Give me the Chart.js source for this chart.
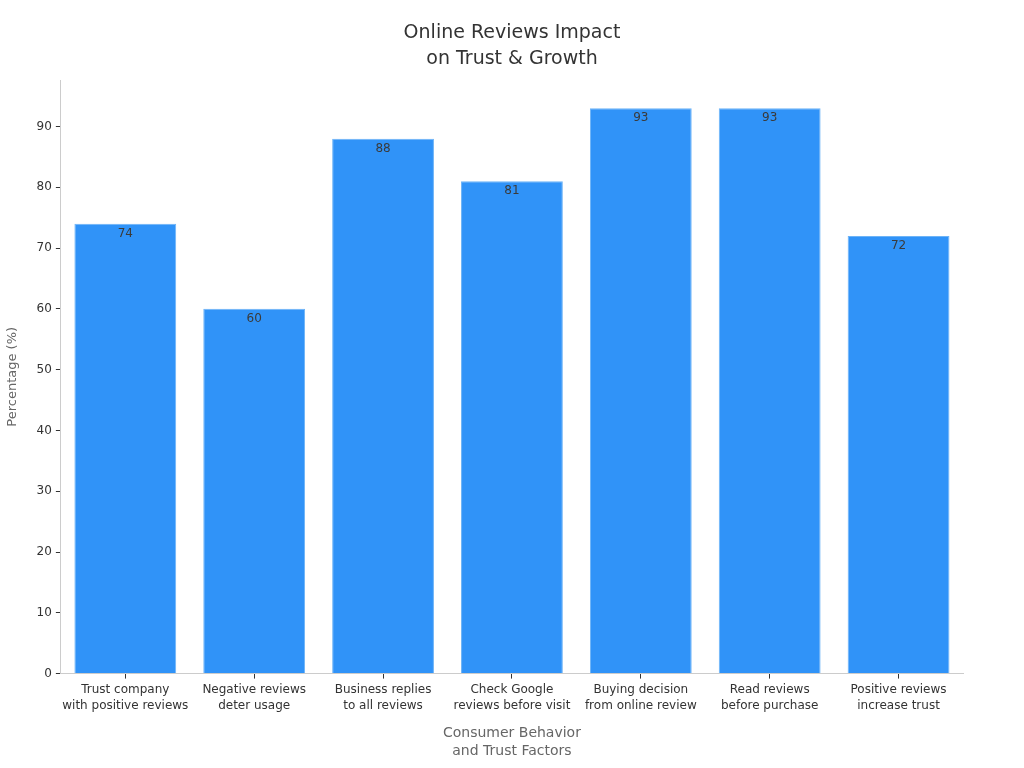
<!DOCTYPE html>
<html>
<head>
<meta charset="utf-8">
<script src="https://cdn.jsdelivr.net/npm/chart.js@4/dist/chart.umd.min.js"></script>
<style>
  html, body { margin: 0; padding: 0; background: #fff; }
  #wrap { width: 1024px; height: 768px; }
</style>
</head>
<body>
<div id="wrap"><canvas id="chart"></canvas></div>
<script>
// Valores
const categories = [
  ["Trust company", "with positive reviews"],
  ["Negative reviews", "deter usage"],
  ["Business replies", "to all reviews"],
  ["Check Google", "reviews before visit"],
  ["Buying decision", "from online review"],
  ["Read reviews", "before purchase"],
  ["Positive reviews", "increase trust"],
];
const percentages = [74, 60, 88, 81, 93, 93, 72];
const titleLines = ["Online Reviews Impact", "on Trust & Growth"];
const xTitleLines = ["Consumer Behavior", "and Trust Factors"];
const yTitle = "Percentage (%)";

const FONT = "'DejaVu Sans', sans-serif";
const INK = "#333333";
const MUTED = "#666666";

// rótulo de valor dentro do topo de cada barra
const barValueLabels = {
  id: "barValueLabels",
  afterDatasetsDraw(chart) {
    const { ctx } = chart;
    const meta = chart.getDatasetMeta(0);
    ctx.save();
    ctx.font = "12px " + FONT;
    ctx.fillStyle = "#3a3a3a";
    ctx.textAlign = "center";
    ctx.textBaseline = "middle";
    meta.data.forEach((bar, i) => {
      ctx.fillText(String(percentages[i]), bar.x, bar.y + 10);
    });
    ctx.restore();
  },
};

// título centrado na largura toda do canvas (o título nativo fica deslocado pelo padding)
const centeredTitle = {
  id: "centeredTitle",
  afterDraw(chart) {
    const { ctx } = chart;
    ctx.save();
    ctx.font = "19px " + FONT;
    ctx.fillStyle = INK;
    ctx.textAlign = "center";
    ctx.textBaseline = "middle";
    titleLines.forEach((line, i) => ctx.fillText(line, chart.width / 2, 33 + i * 26));
    ctx.restore();
  },
};

new Chart(document.getElementById("chart"), {
  type: "bar",
  data: {
    labels: categories,
    datasets: [{
      data: percentages,
      backgroundColor: "#3093f8",
      borderColor: "#6cb3f7",
      borderWidth: 1,
      barPercentage: 0.79,
      categoryPercentage: 1,
    }],
  },
  options: {
    responsive: true,
    maintainAspectRatio: false,
    animation: false,
    layout: { padding: { left: 5, right: 61, top: 80, bottom: 8 } },
    plugins: {
      legend: { display: false },
      tooltip: { enabled: false },
      title: { display: false },
    },
    scales: {
      x: {
        grid: { display: true, offset: false, drawOnChartArea: false, drawTicks: true, tickLength: 5, color: INK },
        border: { display: true, color: "#cccccc" },
        ticks: { autoSkip: false, color: INK, font: { family: FONT, size: 12, lineHeight: 1.35 }, maxRotation: 0, padding: 3 },
        title: {
          display: true,
          text: xTitleLines,
          color: MUTED,
          font: { family: FONT, size: 14, lineHeight: 1.25 },
          padding: { top: 8, bottom: 0 },
        },
      },
      y: {
        min: 0,
        max: 97.65,
        grid: { display: true, drawOnChartArea: false, drawTicks: true, tickLength: 5, color: INK },
        border: { display: true, color: "#cccccc" },
        ticks: { stepSize: 10, includeBounds: false, color: INK, font: { family: FONT, size: 12 }, padding: 4 },
        title: {
          display: true,
          text: yTitle,
          color: MUTED,
          font: { family: FONT, size: 13 },
          padding: { top: 0, bottom: 12 },
        },
      },
    },
  },
  plugins: [barValueLabels, centeredTitle],
});
</script>
</body>
</html>
